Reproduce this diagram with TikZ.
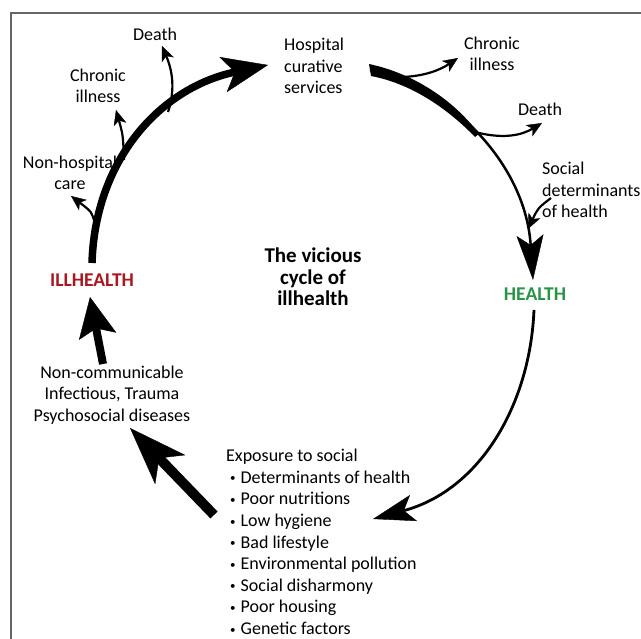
\documentclass[tikz,border=0pt]{standalone}
\usepackage{fontspec}
\setmainfont{Carlito}
\usetikzlibrary{arrows.meta}

\definecolor{illred}{RGB}{172,22,32}
\definecolor{healthgreen}{RGB}{40,148,72}
\newcommand{\itm}{\hspace*{4pt}\raisebox{1.5pt}{\fontsize{11}{0}\selectfont\textbullet}\hspace{5pt}}

\begin{document}
\begin{tikzpicture}[x=1pt,y=-1pt,
    lbl/.style={font=\fontsize{18}{21.6}\selectfont,align=center,inner sep=0pt},
    heavy/.style={lbl,font=\fontsize{19.5}{21.6}\selectfont\bfseries},
    twig/.style={line width=2.2pt,-{Stealth[length=15pt,width=13pt,inset=4pt,line width=0.4pt]}}]

    \useasboundingbox (0,0) rectangle (641,639);
    \draw[line width=1.5pt,black!60] (11,639) -- (11,13) -- (641,13);

    % labels
    \node[lbl] (deathL) at (155,34) {Death};
    \node[lbl] (chronL) at (98,86) {Chronic\\illness};
    \node[lbl] (nonhosp) at (70,173) {Non-hospital\\care};
    \node[heavy,text=illred] (ill) at (92,280) {ILLHEALTH};
    \node[lbl,align=left,anchor=west] (hosp) at (284,66) {Hospital\\curative\\services};
    \node[lbl] (chronR) at (492,54) {Chronic\\illness};
    \node[lbl] (deathR) at (540,109) {Death};
    \node[lbl,align=left,anchor=west] (social) at (542,190) {Social\\determinants\\of health};
    \node[heavy,text=healthgreen] (health) at (535,294) {HEALTH};
    \node[heavy,font=\fontsize{21}{21.6}\selectfont\bfseries] (title) at (313,277) {The vicious\\cycle of\\illhealth};
    \node[lbl] (disease) at (112,395) {Non-communicable\\Infectious, Trauma\\Psychosocial diseases};
    \node[lbl,align=left,anchor=west] (expo) at (226,542) {Exposure to social\\
        \itm Determinants of health\\ \itm Poor nutritions\\ \itm Low hygiene\\
        \itm Bad lifestyle\\ \itm Environmental pollution\\ \itm Social disharmony\\
        \itm Poor housing\\ \itm Genetic factors};

    % ends of the connectors
    \coordinate (illOut) at (92,263);
    \coordinate (hospIn) at (268,65);
    \coordinate (hospOut) at (370,70);
    \coordinate (healthIn) at (533,280);
    \coordinate (healthOut) at (534,310);
    \coordinate (expoIn) at (373,519);
    \coordinate (expoOut) at (214,515);
    \coordinate (diseaseIn) at (130,428);
    \coordinate (diseaseOut) at (103,364);
    \coordinate (illIn) at (90,297);

    % ill health to hospital
    \draw[line width=7.5pt,-{Stealth[length=46pt,width=36pt,inset=12pt,line width=0.4pt]}]
        (illOut) .. controls (95,160) and (160,88) .. (hospIn);
    \draw[twig] (95,224) .. controls (92,212) .. (71,196);
    \draw[twig] (124,160) .. controls (123,135) .. (116,110);
    \draw[twig] (168,112) .. controls (177,85) and (170,65) .. (162,46);

    % hospital to health
    \fill (369,64) .. controls (407,72) and (450,95) .. (479,134)
        -- (475,137) .. controls (444,105) and (408,83) .. (371,76) -- cycle;
    \draw[line width=2.5pt,-{Stealth[length=45pt,width=27pt,inset=10pt,line width=0.4pt]}]
        (hospOut) .. controls (445,85) and (525,160) .. (healthIn);
    \draw[twig] (403,77) .. controls (425,76) and (440,70) .. (458,58);
    \draw[twig] (479,133) .. controls (505,139) and (522,135) .. (542,123);
    \draw[twig] (551,198) .. controls (538,208) .. (528,229);

    % health to exposure
    \draw[line width=2.8pt,-{Stealth[length=42pt,width=27pt,inset=10pt,line width=0.4pt]}]
        (healthOut) .. controls (530,405) and (480,490) .. (expoIn);

    % exposure to disease to ill health
    \draw[line width=10pt,-{Stealth[length=58pt,width=42pt,inset=16pt,line width=0.4pt]}]
        (expoOut) -- (diseaseIn);
    \draw[line width=8pt,-{Stealth[length=40pt,width=38pt,inset=8pt,line width=0.4pt]}]
        (diseaseOut) -- (illIn);

\end{tikzpicture}
\end{document}
